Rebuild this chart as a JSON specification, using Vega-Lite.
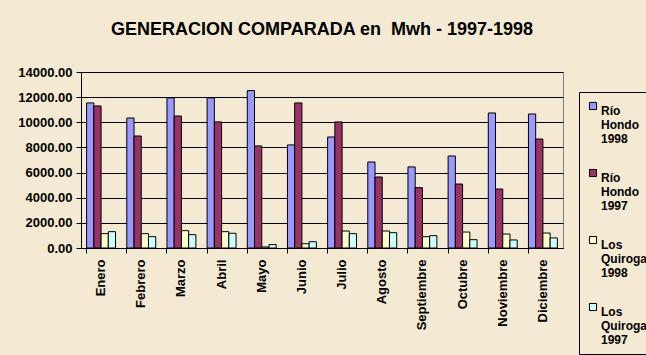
{
  "$schema": "https://vega.github.io/schema/vega-lite/v6.json",
  "autosize": {"type": "none"},
  "width": 482,
  "height": 176,
  "padding": {"left": 81, "top": 72, "right": 83, "bottom": 107},
  "background": "#f4ead3",
  "title": {
    "text": "GENERACION COMPARADA en\u00a0 Mwh - 1997-1998",
    "font": "Liberation Sans",
    "fontSize": 18,
    "fontWeight": "bold",
    "color": "black",
    "anchor": "middle",
    "offset": 27
  },
  "data": {
    "values": [
      {"mes": "Enero", "serie": "Río Hondo 1998", "v": 11540},
      {"mes": "Enero", "serie": "Río Hondo 1997", "v": 11300},
      {"mes": "Enero", "serie": "Los Quiroga 1998", "v": 1140},
      {"mes": "Enero", "serie": "Los Quiroga 1997", "v": 1300},
      {"mes": "Febrero", "serie": "Río Hondo 1998", "v": 10340},
      {"mes": "Febrero", "serie": "Río Hondo 1997", "v": 8910},
      {"mes": "Febrero", "serie": "Los Quiroga 1998", "v": 1140},
      {"mes": "Febrero", "serie": "Los Quiroga 1997", "v": 900},
      {"mes": "Marzo", "serie": "Río Hondo 1998", "v": 11940},
      {"mes": "Marzo", "serie": "Río Hondo 1997", "v": 10500},
      {"mes": "Marzo", "serie": "Los Quiroga 1998", "v": 1380},
      {"mes": "Marzo", "serie": "Los Quiroga 1997", "v": 1060},
      {"mes": "Abril", "serie": "Río Hondo 1998", "v": 11940},
      {"mes": "Abril", "serie": "Río Hondo 1997", "v": 10030},
      {"mes": "Abril", "serie": "Los Quiroga 1998", "v": 1300},
      {"mes": "Abril", "serie": "Los Quiroga 1997", "v": 1170},
      {"mes": "Mayo", "serie": "Río Hondo 1998", "v": 12520},
      {"mes": "Mayo", "serie": "Río Hondo 1997", "v": 8120},
      {"mes": "Mayo", "serie": "Los Quiroga 1998", "v": 80},
      {"mes": "Mayo", "serie": "Los Quiroga 1997", "v": 270},
      {"mes": "Junio", "serie": "Río Hondo 1998", "v": 8200},
      {"mes": "Junio", "serie": "Río Hondo 1997", "v": 11540},
      {"mes": "Junio", "serie": "Los Quiroga 1998", "v": 340},
      {"mes": "Junio", "serie": "Los Quiroga 1997", "v": 500},
      {"mes": "Julio", "serie": "Río Hondo 1998", "v": 8830},
      {"mes": "Julio", "serie": "Río Hondo 1997", "v": 10030},
      {"mes": "Julio", "serie": "Los Quiroga 1998", "v": 1350},
      {"mes": "Julio", "serie": "Los Quiroga 1997", "v": 1140},
      {"mes": "Agosto", "serie": "Río Hondo 1998", "v": 6840},
      {"mes": "Agosto", "serie": "Río Hondo 1997", "v": 5650},
      {"mes": "Agosto", "serie": "Los Quiroga 1998", "v": 1350},
      {"mes": "Agosto", "serie": "Los Quiroga 1997", "v": 1220},
      {"mes": "Septiembre", "serie": "Río Hondo 1998", "v": 6450},
      {"mes": "Septiembre", "serie": "Río Hondo 1997", "v": 4800},
      {"mes": "Septiembre", "serie": "Los Quiroga 1998", "v": 900},
      {"mes": "Septiembre", "serie": "Los Quiroga 1997", "v": 980},
      {"mes": "Octubre", "serie": "Río Hondo 1998", "v": 7320},
      {"mes": "Octubre", "serie": "Río Hondo 1997", "v": 5090},
      {"mes": "Octubre", "serie": "Los Quiroga 1998", "v": 1270},
      {"mes": "Octubre", "serie": "Los Quiroga 1997", "v": 660},
      {"mes": "Noviembre", "serie": "Río Hondo 1998", "v": 10740},
      {"mes": "Noviembre", "serie": "Río Hondo 1997", "v": 4690},
      {"mes": "Noviembre", "serie": "Los Quiroga 1998", "v": 1110},
      {"mes": "Noviembre", "serie": "Los Quiroga 1997", "v": 640},
      {"mes": "Diciembre", "serie": "Río Hondo 1998", "v": 10660},
      {"mes": "Diciembre", "serie": "Río Hondo 1997", "v": 8670},
      {"mes": "Diciembre", "serie": "Los Quiroga 1998", "v": 1190},
      {"mes": "Diciembre", "serie": "Los Quiroga 1997", "v": 800}
    ]
  },
  "mark": {"type": "bar", "stroke": "black", "strokeWidth": 1},
  "encoding": {
    "x": {
      "field": "mes",
      "type": "nominal",
      "sort": null,
      "title": null,
      "scale": {"paddingInner": 0.28, "paddingOuter": 0.14},
      "axis": {
        "bandPosition": 0,
        "labelAngle": -90,
        "labelFont": "Liberation Sans",
        "labelFontSize": 13,
        "labelFontWeight": "bold",
        "labelColor": "black",
        "labelPadding": 6,
        "ticks": true,
        "tickSize": 5,
        "tickColor": "black",
        "domainColor": "black",
        "grid": false
      }
    },
    "xOffset": {
      "field": "serie",
      "type": "nominal",
      "sort": ["Río Hondo 1998", "Río Hondo 1997", "Los Quiroga 1998", "Los Quiroga 1997"],
      "scale": {"paddingInner": 0, "paddingOuter": 0}
    },
    "y": {
      "field": "v",
      "type": "quantitative",
      "title": null,
      "scale": {"domain": [0, 14000], "nice": false},
      "axis": {
        "values": [0, 2000, 4000, 6000, 8000, 10000, 12000, 14000],
        "format": ".2f",
        "labelFont": "Liberation Sans",
        "labelFontSize": 13,
        "labelFontWeight": "bold",
        "labelColor": "black",
        "labelPadding": 4,
        "tickSize": 5,
        "tickColor": "black",
        "domainColor": "black",
        "gridColor": "black",
        "gridOpacity": 1
      }
    },
    "color": {
      "field": "serie",
      "type": "nominal",
      "sort": ["Río Hondo 1998", "Río Hondo 1997", "Los Quiroga 1998", "Los Quiroga 1997"],
      "scale": {
        "domain": ["Río Hondo 1998", "Río Hondo 1997", "Los Quiroga 1998", "Los Quiroga 1997"],
        "range": ["#9999ff", "#993366", "#ffffcc", "#ccffff"]
      },
      "legend": {
        "title": null,
        "orient": "none",
        "legendX": 498,
        "legendY": 20,
        "direction": "vertical",
        "symbolType": "square",
        "symbolSize": 50,
        "symbolStrokeColor": "black",
        "symbolStrokeWidth": 1,
        "labelExpr": "split(datum.label, ' ')",
        "labelFont": "Liberation Sans",
        "labelFontSize": 12,
        "labelFontWeight": "bold",
        "labelColor": "black",
        "labelBaseline": "top",
        "labelOffset": 2,
        "rowPadding": 22,
        "strokeColor": "black",
        "padding": 8,
        "fillColor": "#f4ead3"
      }
    }
  },
  "config": {
    "view": {"stroke": "#808080", "strokeWidth": 1},
    "axis": {"domainWidth": 1, "tickWidth": 1}
  }
}
